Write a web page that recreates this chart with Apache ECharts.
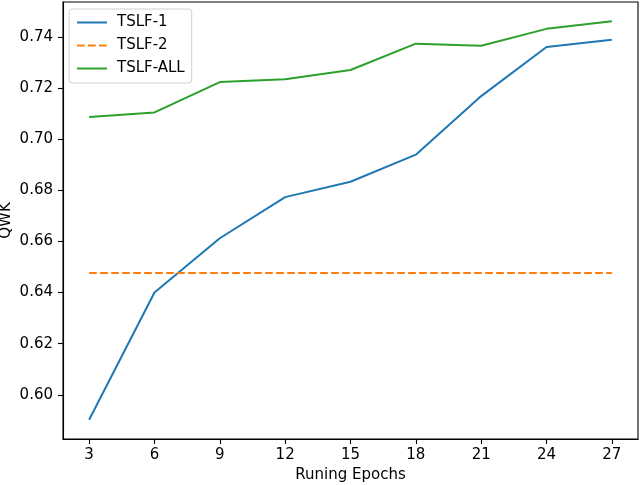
<!DOCTYPE html>
<html>
<head>
<meta charset="utf-8">
<script src="https://cdn.jsdelivr.net/npm/echarts@6/dist/echarts.min.js"></script>
<style>
html,body{margin:0;padding:0;background:#fff;}
#c{width:640px;height:485px;}
</style>
</head>
<body>
<div id="c"></div>
<script>
const epochs = [3, 6, 9, 12, 15, 18, 21, 24, 27];
const tslf1 = [0.5902, 0.6400, 0.6612, 0.6773, 0.6833, 0.6939, 0.7168, 0.7360, 0.7388];
const tslf2 = [0.6476, 0.6476, 0.6476, 0.6476, 0.6476, 0.6476, 0.6476, 0.6476, 0.6476];
const tslfAll = [0.7086, 0.7104, 0.7223, 0.7234, 0.7270, 0.7373, 0.7365, 0.7431, 0.7461];
const xTicks = [3, 6, 9, 12, 15, 18, 21, 24, 27];
const yTicks = [0.60, 0.62, 0.64, 0.66, 0.68, 0.70, 0.72, 0.74];

const font = 'DejaVu Sans';
const fs = 15;
const pair = (ys) => epochs.map((x, i) => [x, ys[i]]);

const chart = echarts.init(document.getElementById('c'), null, {renderer: 'canvas'});
chart.setOption({
  animation: false,
  backgroundColor: '#fff',
  textStyle: {fontFamily: font},
  grid: {left: 63, right: 2, top: 2, bottom: 46, containLabel: false, outerBoundsMode: 'none',
         show: true, borderColor: '#000', borderWidth: 1.1, backgroundColor: 'transparent'},
  legend: {
    left: 69, top: 9, orient: 'vertical',
    itemWidth: 30, itemHeight: 14, itemGap: 8,
    padding: [6, 7, 7, 7],
    borderColor: '#d0d0d0', borderWidth: 1, borderRadius: 3,
    backgroundColor: 'rgba(255,255,255,0.8)',
    itemStyle: {opacity: 0},
    textStyle: {fontFamily: font, fontSize: fs, color: '#000', padding: [0, 0, 0, 5]},
    data: ['TSLF-1', 'TSLF-2', 'TSLF-ALL']
  },
  xAxis: {
    type: 'value', min: 1.8, max: 28.2,
    name: 'Runing Epochs', nameLocation: 'middle', nameGap: 29, nameMoveOverlap: false,
    nameTextStyle: {fontFamily: font, fontSize: fs, color: '#000'},
    axisLine: {show: true, lineStyle: {color: '#000', width: 1.1}},
    axisTick: {show: true, length: 5, lineStyle: {color: '#000', width: 1.1}, customValues: xTicks},
    axisLabel: {fontFamily: font, fontSize: fs, color: '#000', margin: 9, customValues: xTicks, formatter: v => String(v)},
    splitLine: {show: false}
  },
  yAxis: {
    type: 'value', min: 0.5827, max: 0.7536,
    name: 'QWK', nameLocation: 'middle', nameGap: 49, nameRotate: 90, nameMoveOverlap: false,
    nameTextStyle: {fontFamily: font, fontSize: fs, color: '#000'},
    axisLine: {show: true, lineStyle: {color: '#000', width: 1.1}},
    axisTick: {show: true, length: 5, lineStyle: {color: '#000', width: 1.1}, customValues: yTicks},
    axisLabel: {fontFamily: font, fontSize: fs, color: '#000', margin: 10, customValues: yTicks, formatter: v => v.toFixed(2)},
    splitLine: {show: false}
  },
  series: [
    {name: 'TSLF-1', type: 'line', data: pair(tslf1), symbol: 'none', showSymbol: false,
     lineStyle: {color: '#1f77b4', width: 2}, itemStyle: {color: '#1f77b4'}},
    {name: 'TSLF-2', type: 'line', data: pair(tslf2), symbol: 'none', showSymbol: false,
     lineStyle: {color: '#ff7f0e', width: 2, type: [7.7, 3.3]}, itemStyle: {color: '#ff7f0e'}},
    {name: 'TSLF-ALL', type: 'line', data: pair(tslfAll), symbol: 'none', showSymbol: false,
     lineStyle: {color: '#2ca02c', width: 2}, itemStyle: {color: '#2ca02c'}}
  ]
});
</script>
</body>
</html>
